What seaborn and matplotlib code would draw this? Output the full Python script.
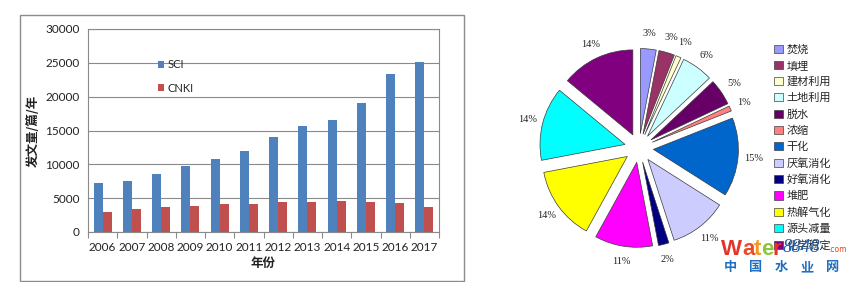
import matplotlib
matplotlib.use("Agg")
import matplotlib.pyplot as plt
import seaborn as sns
import pandas as pd
import numpy as np
from matplotlib.patches import Rectangle, Patch

# ---------------- data ----------------
years = ["2006", "2007", "2008", "2009", "2010", "2011", "2012", "2013", "2014", "2015", "2016", "2017"]
sci = [7200, 7600, 8600, 9800, 10800, 11900, 14100, 15700, 16500, 19000, 23400, 25100]
cnki = [2900, 3400, 3750, 3850, 4200, 4200, 4400, 4500, 4600, 4400, 4300, 3700]
series_names = ["SCI", "CNKI"]

pie_labels = ["焚烧", "填埋", "建材利用", "土地利用", "脱水", "浓缩", "干化",
              "厌氧消化", "好氧消化", "堆肥", "热解气化", "源头减量", "化学稳定"]
pie_values = [3, 3, 1, 6, 5, 1, 15, 11, 2, 11, 14, 14, 14]
pie_colors = ["#9999FF", "#993366", "#FFFFCC", "#CCFFFF", "#660066", "#FF8080", "#0066CC",
              "#CCCCFF", "#000080", "#FF00FF", "#FFFF00", "#00FFFF", "#800080"]

wm_letters = ["W", "a", "t", "e", "r"]
wm_colors = ["#E5352B", "#EA4B26", "#F39A1E", "#8CC63F", "#E5352B"]
wm_cn = ["中", "国", "水", "业", "网"]

sns.set_theme(style="white")
plt.rcParams['font.family'] = ['Noto Sans CJK SC', 'DejaVu Sans']

W, H = 850, 282
fig = plt.figure(figsize=(W / 100, H / 100), dpi=100)

def fx(px):
    return px / W

def fy(py):
    return 1 - py / H

# chart frame
fig.patches.append(Rectangle((fx(20), fy(281)), fx(464) - fx(20), fy(15) - fy(281),
                             transform=fig.transFigure, fill=False, edgecolor="#8c8c8c",
                             linewidth=1.0, zorder=0))

# ---------------- bar chart ----------------
df = pd.DataFrame({
    "年份": years * 2,
    "value": sci + cnki,
    "series": [series_names[0]] * len(years) + [series_names[1]] * len(years),
})
ax = fig.add_axes([fx(88), fy(232), fx(439) - fx(88), fy(29) - fy(232)])
sns.barplot(data=df, x="年份", y="value", hue="series", ax=ax,
            palette=["#4F81BD", "#C0504D"], width=0.62, saturation=1, gap=0,
            edgecolor="none", linewidth=0)
ax.set_ylim(0, 30000)
ax.set_yticks(np.arange(0, 30001, 5000))
ax.yaxis.grid(True, color="#8a8a8a", linewidth=0.8)
ax.set_axisbelow(True)
for s in ["top", "right", "left", "bottom"]:
    ax.spines[s].set_visible(True)
    ax.spines[s].set_color("#8a8a8a")
    ax.spines[s].set_linewidth(0.8)
ax.set_xlim(-0.5, len(years) - 0.5)
ax.set_xticks(np.arange(-0.5, len(years), 1.0), minor=True)
ax.tick_params(axis="x", which="minor", length=4, color="#8a8a8a", width=0.8, bottom=True)
ax.tick_params(axis="x", which="major", length=0, pad=7)
ax.tick_params(axis="y", length=0, pad=6)
for t in ax.get_xticklabels() + ax.get_yticklabels():
    t.set_fontfamily(["Lato", "DejaVu Sans"])
    t.set_fontsize(8.5)
    t.set_color("#222222")
ax.set_xlabel("年份", fontsize=9, fontweight="bold", labelpad=3, color="#222222")
ax.set_ylabel("发文量/篇/年", fontsize=9, fontweight="bold", labelpad=4, color="#222222")
leg = ax.legend(loc="upper left", bbox_to_anchor=(0.17, 0.9), frameon=False,
                handlelength=0.6, handleheight=0.6, labelspacing=1.1, handletextpad=0.3,
                prop={"family": ["Lato", "DejaVu Sans"], "size": 8})

# ---------------- pie chart ----------------
cx, cy, rpx = 639, 148, 85
half = 1.35 * rpx
pax = fig.add_axes([fx(cx - half), fy(cy + half), (2 * half) / W, (2 * half) / H])
wedges, texts, autotexts = pax.pie(
    pie_values, colors=pie_colors, startangle=90, counterclock=False,
    explode=[0.17] * len(pie_values), autopct="%d%%", pctdistance=1.18,
    wedgeprops={"edgecolor": "#3a3a3a", "linewidth": 0.5},
    textprops={"fontfamily": ["Liberation Serif"], "fontsize": 7.5, "color": "#222222"})
pax.set_xlim(-1.35, 1.35)
pax.set_ylim(-1.35, 1.35)
pax.set_aspect("equal")
pax.axis("off")

handles = [Patch(facecolor=c, edgecolor="#404040", linewidth=0.5) for c in pie_colors]
fig.legend(handles, pie_labels, loc="upper left", bbox_to_anchor=(fx(770), fy(40)),
           frameon=False, handlelength=0.75, handleheight=0.75, labelspacing=0.53,
           handletextpad=0.35, borderaxespad=0,
           prop={"family": ["Noto Sans CJK SC"], "size": 8})

# ---------------- watermark (drawn over the legend, as in the reference) ----------------
for ch, col, x in zip(wm_letters, wm_colors, [721, 742, 754, 761, 773]):
    fig.text(fx(x), fy(255), ch, color=col, fontsize=16, fontweight="bold",
             family=["Liberation Sans"], va="baseline", ha="left", zorder=10)
fig.text(fx(783), fy(252), "8848", color="#1F5FB0", fontsize=13.5, style="italic",
         family=["Liberation Serif"], va="baseline", ha="left", zorder=10)
fig.text(fx(828), fy(252), ".com", color="#E8401C", fontsize=5.5,
         family=["DejaVu Sans"], va="baseline", ha="left", zorder=10)
for ch, x in zip(wm_cn, [730, 756, 781, 807, 833]):
    fig.text(fx(x), fy(267), ch, color="#1F6FC0", fontsize=9.5, fontweight="bold",
             va="center", ha="center", zorder=10)

fig.savefig("out.png", dpi=100)
